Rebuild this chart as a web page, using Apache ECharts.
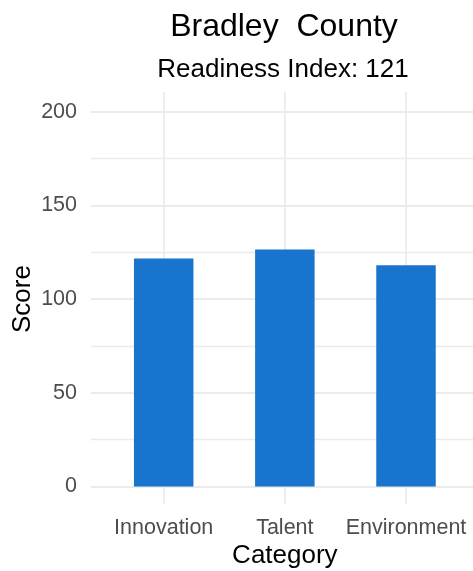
<!DOCTYPE html>
<html>
<head>
<meta charset="utf-8">
<script src="https://cdn.jsdelivr.net/npm/echarts@6/dist/echarts.min.js"></script>
<style>
  html, body { margin: 0; padding: 0; background: #ffffff; }
  #chart { width: 473px; height: 571px; }
</style>
</head>
<body>
<div id="chart"></div>
<script>
// County readiness scores by category
const countyName = 'Bradley  County';
const readinessIndex = 121;
const categories = ['Innovation', 'Talent', 'Environment'];
const scores = [121.7, 126.5, 118.0];
const yTicks = [0, 50, 100, 150, 200];

const FONT = "'Liberation Sans', Arial, sans-serif";
const GRID_COLOR = '#EBEBEB';
const TICK_COLOR = '#4D4D4D';

// shared layout of the plotting panel
const CAT_LEFT = 163.7, CAT_WIDTH = 242.3;     // first to last category centre
const VAL_TOP = 111.7, VAL_HEIGHT = 374.8;     // score 200 down to score 0

const chart = echarts.init(document.getElementById('chart'), null, { renderer: 'canvas' });

chart.setOption({
  backgroundColor: '#ffffff',
  animation: false,
  title: [
    {
      text: countyName,
      left: 279, top: 6, textAlign: 'center',
      textStyle: { fontFamily: FONT, fontSize: 32, fontWeight: 'normal', color: '#000000', lineHeight: 32 }
    },
    {
      text: 'Readiness Index: ' + readinessIndex,
      left: 278, top: 52, textAlign: 'center',
      textStyle: { fontFamily: FONT, fontSize: 26, fontWeight: 'normal', color: '#000000', lineHeight: 26 }
    }
  ],
  grid: [
    // bars: category positions x score scale
    { left: CAT_LEFT, width: CAT_WIDTH, top: VAL_TOP, height: VAL_HEIGHT,
      containLabel: false, outerBoundsMode: 'none' },
    // score axis with its horizontal guide lines across the full panel width
    { left: 91, width: 388, top: VAL_TOP, height: VAL_HEIGHT,
      containLabel: false, outerBoundsMode: 'none' },
    // category axis with its vertical guide lines over the full panel height
    { left: CAT_LEFT, width: CAT_WIDTH, top: 92, height: 411.5,
      containLabel: false, outerBoundsMode: 'none' }
  ],
  xAxis: [
    {
      gridIndex: 0,
      type: 'category',
      data: categories,
      boundaryGap: false,
      show: false
    },
    {
      gridIndex: 1,
      type: 'value',
      min: 0, max: 1,
      show: false
    },
    {
      gridIndex: 2,
      type: 'category',
      data: categories,
      boundaryGap: false,
      axisLine: { show: false, onZero: false },
      axisTick: { show: false },
      axisLabel: {
        interval: 0,
        hideOverlap: false,
        margin: 14,
        fontFamily: FONT, fontSize: 21.5, lineHeight: 21.5, color: TICK_COLOR
      },
      splitLine: { show: true, interval: 0, lineStyle: { color: GRID_COLOR, width: 1.8 } },
      name: 'Category',
      nameLocation: 'middle',
      nameGap: 39,
      nameMoveOverlap: false,
      nameTextStyle: { fontFamily: FONT, fontSize: 26, lineHeight: 26, color: '#000000' }
    }
  ],
  yAxis: [
    {
      gridIndex: 0,
      type: 'value',
      min: yTicks[0],
      max: yTicks[yTicks.length - 1],
      show: false,
      splitLine: { show: false }
    },
    {
      gridIndex: 1,
      type: 'value',
      min: yTicks[0],
      max: yTicks[yTicks.length - 1],
      interval: 50,
      axisLine: { show: false },
      axisTick: { show: false },
      axisLabel: {
        margin: 14,
        fontFamily: FONT, fontSize: 21.5, lineHeight: 21.5, color: TICK_COLOR
      },
      splitLine: { show: true, lineStyle: { color: GRID_COLOR, width: 1.8 } },
      minorTick: { show: false, splitNumber: 2 },
      minorSplitLine: { show: true, lineStyle: { color: GRID_COLOR, width: 1.4 } },
      name: 'Score',
      nameLocation: 'middle',
      nameGap: 55,
      nameMoveOverlap: false,
      nameRotate: 90,
      nameTextStyle: { fontFamily: FONT, fontSize: 26, lineHeight: 26, color: '#000000' }
    },
    {
      gridIndex: 2,
      type: 'value',
      min: -10, max: 210,
      show: false,
      splitLine: { show: false }
    }
  ],
  series: [
    {
      type: 'bar',
      xAxisIndex: 0,
      yAxisIndex: 0,
      data: scores,
      barWidth: 59.5,
      clip: false,
      itemStyle: { color: '#1874CD' },
      z: 5
    }
  ]
});
</script>
</body>
</html>
